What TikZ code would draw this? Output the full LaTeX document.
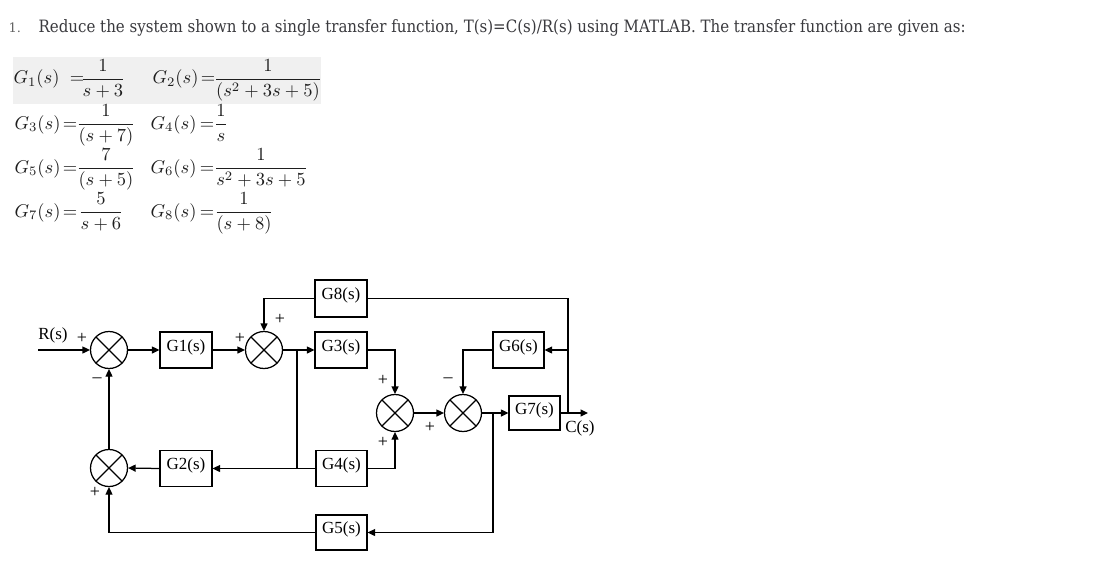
\documentclass[tikz,border=0pt]{standalone}
\usepackage{amsmath}
\usepackage{fontspec}
\setmainfont{Liberation Serif}
\newfontfamily\titlefont{DejaVu Serif}
\usetikzlibrary{arrows.meta}
\definecolor{eqbg}{RGB}{240,240,240}
\definecolor{titlecol}{RGB}{58,58,62}
\definecolor{numcol}{RGB}{100,100,100}
\definecolor{eqcol}{RGB}{30,30,30}
\newcommand{\mq}[1]{\scalebox{1.85}{$#1$}}
\begin{document}
\begin{tikzpicture}[x=1pt,y=-1pt,
  line width=1.25pt,
  arr/.style={-{Triangle[length=7.5pt,width=7pt]}},
  blk/.style={draw, minimum width=52pt, minimum height=36pt, inner sep=0pt,
    font=\fontsize{17}{17}\selectfont, text height=13pt, text depth=11pt},
  sumj/.style={draw, circle, minimum size=37pt, inner sep=0pt,
    path picture={\draw[line width=1.2pt] (path picture bounding box.north west) -- (path picture bounding box.south east)
      (path picture bounding box.north east) -- (path picture bounding box.south west);}},
  sgn/.style={font=\fontsize{18}{18}\selectfont, inner sep=0pt},
  lbl/.style={font=\fontsize{17}{17}\selectfont, inner sep=0pt},
  eq/.style={text=eqcol, inner sep=0pt, anchor=base},
  eqw/.style={text=eqcol, inner sep=0pt, anchor=base west}]
\useasboundingbox[fill=white] (0,0) rectangle (1094,575);

% title
\node[anchor=base west, inner sep=0pt, text=numcol, font=\titlefont\fontsize{13}{13}\selectfont] (num) at (8,33) {1.};
\node[anchor=base west, inner sep=0pt, text=titlecol] (title) at (38,33)
  {\resizebox{927pt}{\height}{\titlefont\fontsize{17}{17}\selectfont Reduce the system shown to a single transfer function, T(s)=C(s)/R(s) using MATLAB. The transfer function are given as:}};

% equations
\fill[eqbg] (13,57) rectangle (321,104);
\node[eqw] (L1) at (13,84) {\mq{G_1(s)}};
\node[eq] (E1) at (77,84) {\mq{=}};
\node[eq] (F1) at (103,84) {\mq{\dfrac{1}{s+3}}};
\node[eqw] (L2) at (152,84) {\mq{G_2(s)}};
\node[eq] (E2) at (208,84) {\mq{=}};
\node[eq] (F2) at (268,84) {\mq{\dfrac{1}{(s^2+3s+5)}}};

\node[eqw] (L3) at (14,129) {\mq{G_3(s)}};
\node[eq] (E3) at (70,129) {\mq{=}};
\node[eq] (F3) at (106,129) {\mq{\dfrac{1}{(s+7)}}};
\node[eqw] (L4) at (150,129) {\mq{G_4(s)}};
\node[eq] (E4) at (207,129) {\mq{=}};
\node[eq] (F4) at (221,129) {\mq{\dfrac{1}{s}}};

\node[eqw] (L5) at (14,173) {\mq{G_5(s)}};
\node[eq] (E5) at (70,173) {\mq{=}};
\node[eq] (F5) at (106,173) {\mq{\dfrac{7}{(s+5)}}};
\node[eqw] (L6) at (150,173) {\mq{G_6(s)}};
\node[eq] (E6) at (207,173) {\mq{=}};
\node[eq] (F6) at (261,173) {\mq{\dfrac{1}{s^2+3s+5}}};

\node[eqw] (L7) at (14,217) {\mq{G_7(s)}};
\node[eq] (E7) at (70,217) {\mq{=}};
\node[eq] (F7) at (101,217) {\mq{\dfrac{5}{s+6}}};
\node[eqw] (L8) at (150,217) {\mq{G_8(s)}};
\node[eq] (E8) at (207,217) {\mq{=}};
\node[eq] (F8) at (244,217) {\mq{\dfrac{1}{(s+8)}}};

% summing junctions
\node[sumj] (s1) at (109,350) {};
\node[sumj] (s2) at (264,350) {};
\node[sumj] (s3) at (395,413) {};
\node[sumj] (s4) at (463,413) {};
\node[sumj] (s5) at (109,468) {};

% blocks
\node[blk] (g1) at (186,350) {G1(s)};
\node[blk, minimum height=37pt] (g8) at (341,298.5) {G8(s)};
\node[blk] (g3) at (341,350) {G3(s)};
\node[blk, minimum width=51pt] (g6) at (518.5,350) {G6(s)};
\node[blk, minimum width=51pt, minimum height=34pt] (g7) at (534.5,413) {G7(s)};
\node[blk] (g2) at (186,468.5) {G2(s)};
\node[blk, minimum width=51pt] (g4) at (341.5,468.5) {G4(s)};
\node[blk, minimum width=51pt, minimum height=35pt] (g5) at (341.5,532.5) {G5(s)};

% coordinates
\coordinate (rin) at (38,350);
\coordinate (b1) at (297,350);
\coordinate (b2) at (297,468.5);
\coordinate (b3) at (493,413);
\coordinate (b4) at (568,413);
\coordinate (b5) at (568,350);
\coordinate (b6) at (493,532.5);
\coordinate (cout) at (588,413);

% connectors
\draw[arr] (rin) -- (s1.west);
\draw[arr] (s1.east) -- (g1.west);
\draw[arr] (g1.east) -- (s2.west);
\draw[arr] (s2.east) -- (g3.west);
\draw (b1) -- (b2);
\draw[arr] (b2) -- (g2.east);
\draw (b2) -- (g4.west);
\draw[arr] (g8.west) -| (s2.north);
\draw[arr] (g3.east) -| (s3.north);
\draw[arr] (g4.east) -| (s3.south);
\draw[arr] (s3.east) -- (s4.west);
\draw[arr] (s4.east) -- (g7.west);
\draw[arr] (g7.east) -- (cout);
\draw (b4) |- (g8.east);
\draw[arr] (b5) -- (g6.east);
\draw[arr] (g6.west) -| (s4.north);
\draw (b3) -- (b6);
\draw[arr] (b6) -- (g5.east);
\draw[arr] (g5.west) -| (s5.south);
\draw[arr] (g2.west) -- (s5.east);
\draw[arr] (s5.north) -- (s1.south);

% labels
\node[lbl] (rlab) at (53,335) {R(s)};
\node[lbl] (clab) at (580,428) {C(s)};
\node[sgn] (p1) at (82,338) {+};
\node[sgn] (m1) at (97,380) {–};
\node[sgn] (p2) at (240,338) {+};
\node[sgn] (p3) at (280,319) {+};
\node[sgn] (p4) at (383,380) {+};
\node[sgn] (p5) at (383,442) {+};
\node[sgn] (p6) at (430,427) {+};
\node[sgn] (m2) at (448,380) {–};
\node[sgn] (p7) at (95,492) {+};
\end{tikzpicture}
\end{document}
